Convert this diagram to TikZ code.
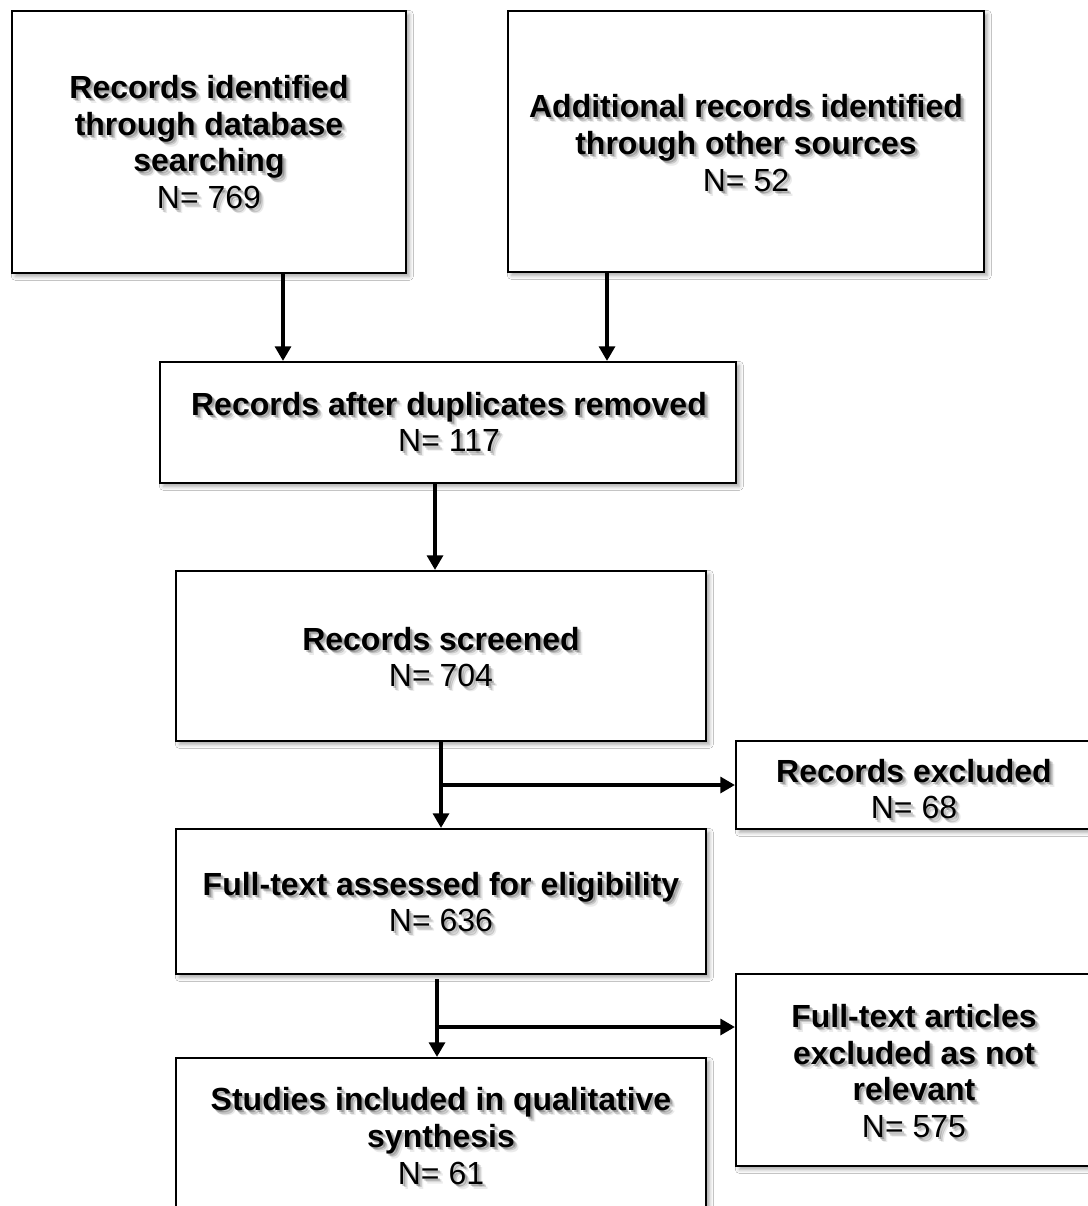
\documentclass[tikz,border=0pt]{standalone}
\usepackage{fontspec}
\setmainfont{Liberation Sans}
\usetikzlibrary{arrows.meta,calc,fit,shadows.blur}

% text with a soft drop shadow: #1 name, #2 anchor point, #3 content
\newcommand\shadowlabel[3]{%
  \foreach \dx/\dy/\op in {2/2/0.22,3.5/3.5/0.16,5/5/0.08}
    \node[lbl, text=black, opacity=\op] at ($(#2)+(\dx,\dy)$) {#3};
  \node[lbl] (#1) at (#2) {#3};
}

\begin{document}
\begin{tikzpicture}[x=0.75pt,y=-0.75pt,
  box/.style={draw=black, line width=1.6pt, fill=white, inner sep=0pt,
    blur shadow={shadow xshift=2.5pt, shadow yshift=-2.5pt,
      shadow blur radius=3pt, shadow opacity=35}},
  lbl/.style={align=center, font=\fontsize{24}{27.6}\selectfont, inner sep=0pt},
  arr/.style={line width=2.5pt, -{Triangle[width=12pt,length=11pt]}}]

\fill[white] (0,0) rectangle (1088,1206);
\useasboundingbox (0,0) rectangle (1088,1206);

% boxes
\node[box, fit={(12,11) (406,273)}] (b1) {};
\node[box, fit={(508,11) (984,272)}] (b2) {};
\node[box, fit={(160,362) (736,483)}] (b3) {};
\node[box, fit={(176,571) (706,741)}] (b4) {};
\node[box, fit={(736,741) (1094,829)}] (b5) {};
\node[box, fit={(176,829) (706,974)}] (b6) {};
\node[box, fit={(736,974) (1094,1166)}] (b7) {};
\node[box, fit={(176,1058) (706,1216)}] (b8) {};

% connector positions
\coordinate (a1) at (283,0);
\coordinate (a2) at (607,0);
\coordinate (a3) at (435,0);
\coordinate (a4) at (441,0);
\coordinate (a5) at (437,0);
\coordinate (j1) at (441,785);
\coordinate (j2) at (437,1027);

\draw[arr] (b1.south -| a1) -- (b3.north -| a1);
\draw[arr] (b2.south -| a2) -- (b3.north -| a2);
\draw[arr] (b3.south -| a3) -- (b4.north -| a3);
\draw[arr] (b4.south -| a4) -- (b6.north -| a4);
\draw[arr] (j1) -- (b5.west |- j1);
\draw[arr] ($(b6.south -| a5)+(0,4)$) -- (b8.north -| a5);
\draw[arr] (j2) -- (b7.west |- j2);

% labels
\shadowlabel{t1}{209,142}{\textbf{Records identified}\\\textbf{through database}\\\textbf{searching}\\N= 769}
\shadowlabel{t2}{746,143}{\textbf{Additional records identified}\\\textbf{through other sources}\\N= 52}
\shadowlabel{t3}{449,422}{\textbf{Records after duplicates removed}\\N= 117}
\shadowlabel{t4}{441,657}{\textbf{Records screened}\\N= 704}
\shadowlabel{t5}{914,789}{\textbf{Records excluded}\\N= 68}
\shadowlabel{t6}{441,902}{\textbf{Full-text assessed for eligibility}\\N= 636}
\shadowlabel{t7}{914,1071}{\textbf{Full-text articles}\\\textbf{excluded as not}\\\textbf{relevant}\\N= 575}
\shadowlabel{t8}{441,1136}{\textbf{Studies included in qualitative}\\\textbf{synthesis}\\N= 61}

\end{tikzpicture}
\end{document}
